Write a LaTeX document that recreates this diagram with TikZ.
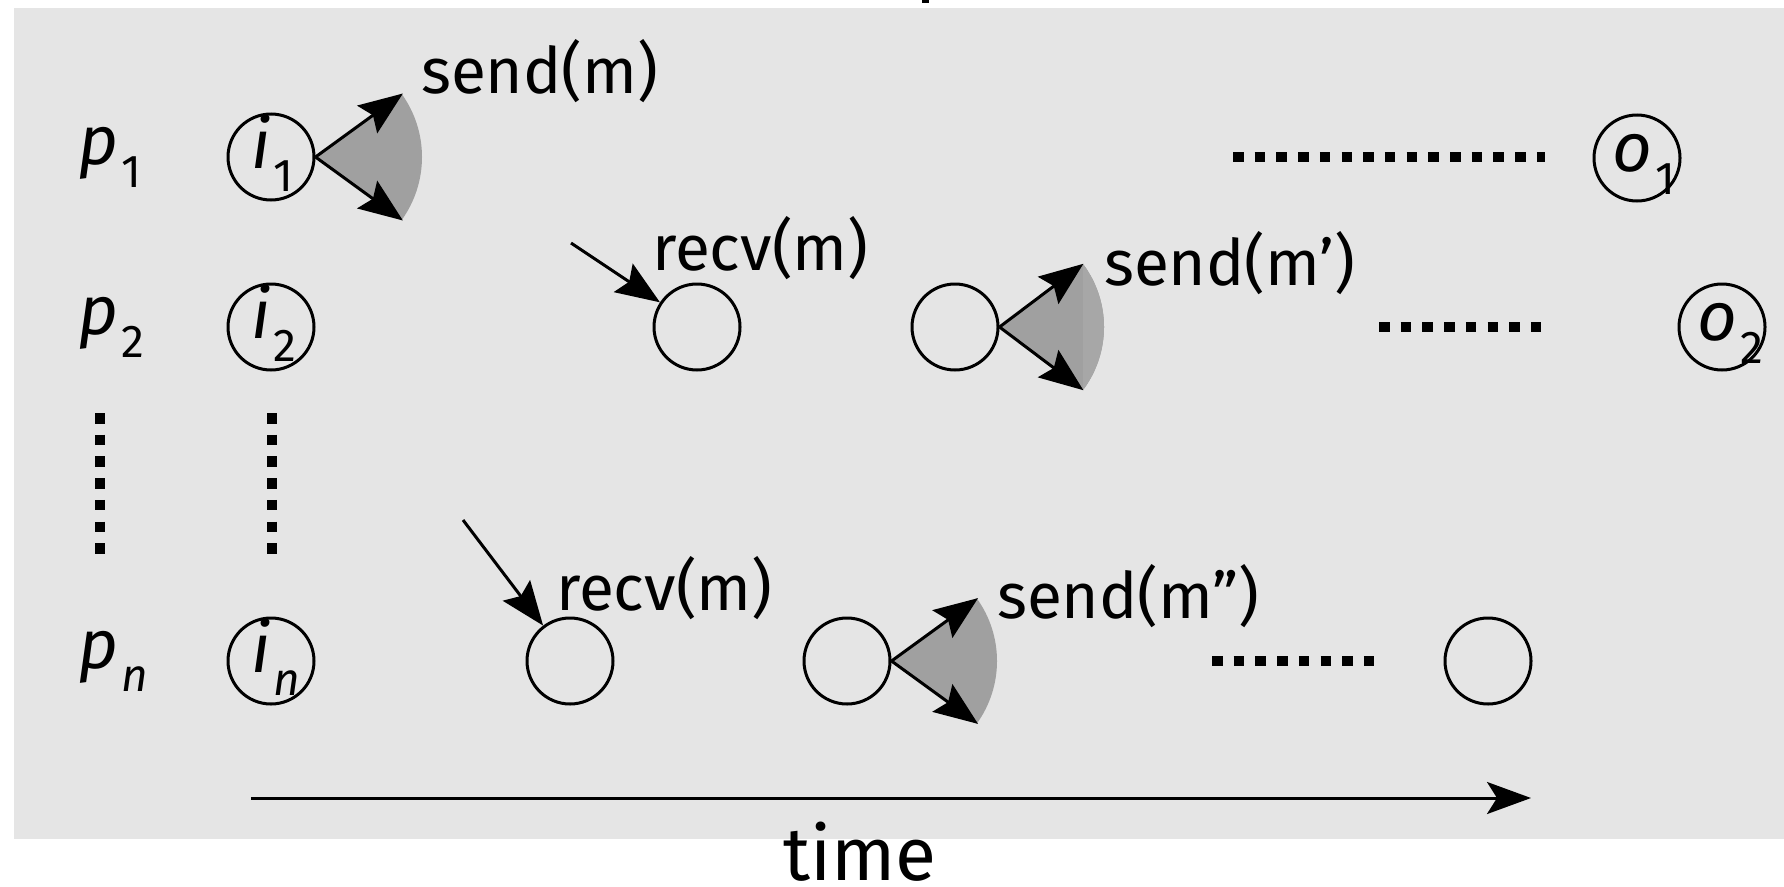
\documentclass[tikz,border=0pt]{standalone}
\usepackage{fontspec}
\setmainfont{Fira Sans}
\usetikzlibrary{arrows.meta,calc}
\definecolor{bgc}{HTML}{E5E5E5}
\definecolor{wedgec}{HTML}{A0A0A0}
\definecolor{wedgelc}{HTML}{A7A7A7}
\newcommand\mainsz{\fontsize{64}{70}\selectfont}
\newcommand\italsz{\fontsize{69}{74}\selectfont}
\newcommand\subsz{\fontsize{46}{50}\selectfont}
\newcommand\sublab[2]{{\italsz\itshape #1}\kern3pt\raisebox{-23pt}{\subsz #2}}
\begin{document}
\begin{tikzpicture}[x=1pt,y=-1pt,
  evt/.style={circle,draw,line width=3pt,minimum size=86pt,inner sep=0pt},
  txt/.style={anchor=base west,inner sep=0pt,font=\mainsz},
  msg/.style={line width=3pt,-{Stealth[length=44pt,width=34pt,inset=7pt]}},
  dotline/.style={line width=10pt,dash pattern=on 10.5pt off 11.2pt},
  wedgefill/.style={fill=wedgec,draw=none}]
\useasboundingbox (0,0) rectangle (1784,886);
\fill[bgc] (14,8) rectangle (1784,839);
\fill (922,0) rectangle (929,3);

% wedges (drawn first)
\coordinate (w1) at (314,157);
\coordinate (w2) at (999,327);
\coordinate (wn) at (890,661);
\fill[wedgefill] (w1) -- ++(-36:108) arc[start angle=-36,end angle=36,radius=108] -- cycle;
\fill[wedgefill] (w2) -- ++(-37:105) arc[start angle=-37,end angle=37,radius=105] -- cycle;
\fill[wedgelc] (w2) ++(-37:105) arc[start angle=-37,end angle=37,radius=105] -- cycle;
\fill[wedgefill] (wn) -- ++(-36:107) arc[start angle=-36,end angle=36,radius=107] -- cycle;

% events
\node[evt] (i1) at (271,157) {};
\node[evt] (i2) at (271,327) {};
\node[evt] (in) at (271,661) {};
\node[evt] (r2) at (697,327) {};
\node[evt] (s2) at (955,327) {};
\node[evt] (o1) at (1637,158) {};
\node[evt] (o2) at (1722,327) {};
\node[evt] (rn) at (570,661) {};
\node[evt] (sn) at (847,661) {};
\node[evt] (en) at (1488,661) {};

% circle labels
\node[txt] (li1) at (251,168) {\sublab{i}{1}};
\node[txt] (li2) at (251,338) {\sublab{i}{2}};
\node[txt] (lin) at (251,672) {\sublab{i}{\itshape n}};
\node[txt] (lo1) at (1612,171) {\sublab{o}{1}};
\node[txt] (lo2) at (1697,340) {\sublab{o}{2}};

% process labels
\node[txt] (lp1) at (78,164) {\sublab{p}{1}};
\node[txt] (lp2) at (78,334) {\sublab{p}{2}};
\node[txt] (lpn) at (78,668) {\sublab{p}{\itshape n}};

% send arrows
\coordinate (i1u) at ($(i1.east)+(-36:108)$);
\coordinate (i1d) at ($(i1.east)+(36:108)$);
\draw[msg] (i1.east) -- (i1u);
\draw[msg] (i1.east) -- (i1d);
\coordinate (s2u) at ($(s2.east)+(-37:105)$);
\coordinate (s2d) at ($(s2.east)+(37:105)$);
\draw[msg] (s2.east) -- (s2u);
\draw[msg] (s2.east) -- (s2d);
\coordinate (snu) at ($(sn.east)+(-36:107)$);
\coordinate (snd) at ($(sn.east)+(36:107)$);
\draw[msg] (sn.east) -- (snu);
\draw[msg] (sn.east) -- (snd);

% receive arrows
\coordinate (a2) at (571,243);
\coordinate (an) at (463,520);
\draw[msg] (a2) -- (r2);
\draw[msg] (an) -- (rn);

% texts
\node[txt] (tsend1) at (421,93) {send(m)};
\node[txt] (trecv2) at (652,270) {recv(m)};
\node[txt] (tsend2) at (1104,285) {send(m’)};
\node[txt] (trecvn) at (556,610) {recv(m)};
\node[txt] (tsendn) at (997,618) {send(m”)};
\node[txt,font=\fontsize{75}{80}\selectfont] (ttime) at (783,880) {time};

% dotted lines
\coordinate (d1a) at (1233,157); \coordinate (d1b) at (1545,157);
\coordinate (d2a) at (1379,327); \coordinate (d2b) at (1543,327);
\coordinate (dna) at (1212,661); \coordinate (dnb) at (1374,661);
\coordinate (v1a) at (100,413); \coordinate (v1b) at (100,554);
\coordinate (v2a) at (272,413); \coordinate (v2b) at (272,554);
\draw[dotline] (d1a) -- (d1b);
\draw[dotline] (d2a) -- (d2b);
\draw[dotline] (dna) -- (dnb);
\draw[dotline] (v1a) -- (v1b);
\draw[dotline] (v2a) -- (v2b);

% time axis
\coordinate (t0) at (251,798);
\coordinate (t1) at (1531,798);
\draw[line width=3pt,-{Stealth[length=44pt,width=32pt,inset=10pt]}] (t0) -- (t1);
\end{tikzpicture}
\end{document}
